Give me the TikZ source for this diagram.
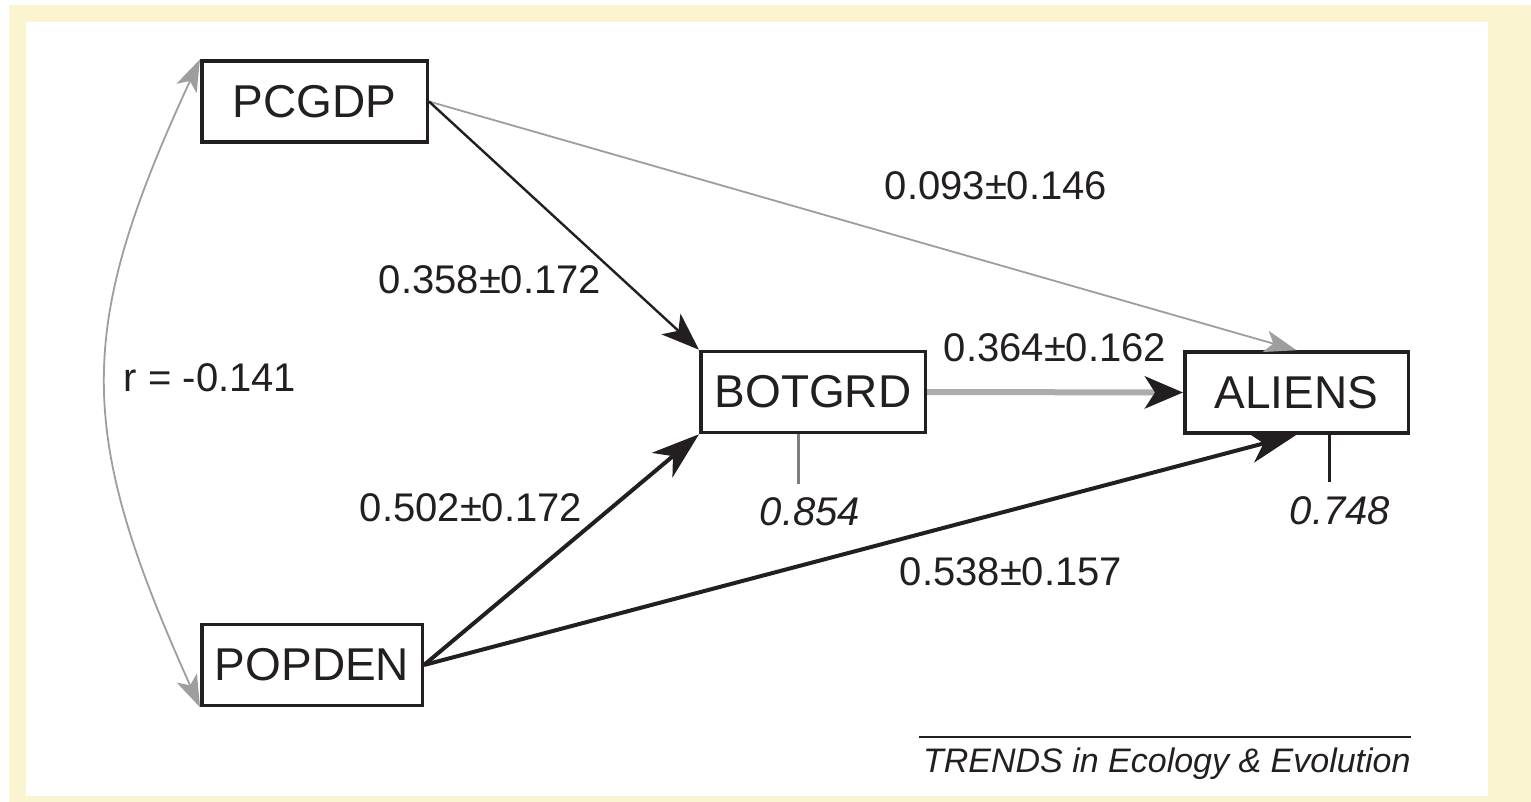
\documentclass[tikz,border=0pt]{standalone}
\usepackage{fontspec}
\setmainfont{Liberation Sans}
\usetikzlibrary{arrows.meta,calc}
\definecolor{fond}{RGB}{250,245,208}
\definecolor{noir}{RGB}{35,31,32}
\definecolor{gris}{RGB}{158,158,158}
\definecolor{grisclair}{RGB}{172,172,172}

\begin{document}
\begin{tikzpicture}[x=0.5pt,y=-0.5pt,
  var/.style={rectangle,draw=noir,line width=1.75pt,minimum height=40.5pt,inner sep=0pt,text=noir,font=\fontsize{23}{27}\selectfont},
  coef/.style={inner sep=0pt,text=noir,font=\fontsize{20}{24}\selectfont},
  resid/.style={coef,font=\fontsize{20}{24}\selectfont\itshape},
  fort/.style={draw=noir,line width=2pt,-{Stealth[length=24pt,width=16pt,inset=7pt]}},
  fin/.style={draw=noir,line width=1.2pt,-{Stealth[length=19pt,width=14pt,inset=5pt]}},
  faible/.style={draw=gris,line width=0.9pt,-{Stealth[length=16pt,width=11pt,inset=4pt]}}]
  % cadre
  \useasboundingbox (0,0) rectangle (1531,802);
  \fill[fond] (9,5) rectangle (1531,802);
  \fill[white] (26,22) rectangle (1488,796);

  % variables
  \node[var,minimum width=112.75pt] (pcgdp) at (314.5,101.5) {PCGDP};
  \node[var,minimum width=110.25pt] (popden) at (312,665) {POPDEN};
  \node[var,minimum width=112.25pt] (botgrd) at (813,392) {BOTGRD};
  \node[var,minimum width=111.75pt] (aliens) at (1296.5,392.5) {ALIENS};

  \coordinate (rb) at (798,484);
  \coordinate (ra) at (1329,482);

  % chemins
  \draw[faible,{Stealth[length=16pt,width=11pt,inset=4pt]}-{Stealth[length=16pt,width=11pt,inset=4pt]}]
    (pcgdp.north west) .. controls (75,330) and (75,430) .. (popden.south west);
  \draw[faible] (pcgdp.east) -- (aliens.north);
  \draw[fin] (pcgdp.east) -- (botgrd.north west);
  \draw[fort] (popden.east) -- (botgrd.south west);
  \draw[fort] (popden.east) -- (aliens.south);
  \draw[draw=grisclair,line width=3pt,-{Stealth[length=19pt,width=16pt,inset=5pt,color=noir]}] (botgrd.east) -- (aliens.west);
  \draw[draw=gris!80!black,line width=1.5pt] (botgrd.south -| rb) -- (rb);
  \draw[draw=noir,line width=1.5pt] (aliens.south -| ra) -- (ra);

  % coefficients
  \node[coef] (c1) at (996,186) {0.093±0.146};
  \node[coef] (c2) at (490,280) {0.358±0.172};
  \node[coef] (c3) at (1055,348) {0.364±0.162};
  \node[coef] (c4) at (210,378) {r = -0.141};
  \node[coef] (c5) at (471,508) {0.502±0.172};
  \node[coef] (c6) at (1011,572) {0.538±0.157};
  \node[resid] (r1) at (810,512) {0.854};
  \node[resid] (r2) at (1340,511) {0.748};

  % source
  \coordinate (s1) at (919,737);
  \coordinate (s2) at (1411,737);
  \draw[noir,line width=1.25pt] (s1) -- (s2);
  \node[inner sep=0pt,anchor=base east,text=noir,font=\fontsize{17}{20}\selectfont\itshape] (src) at (1411,772) {TRENDS in Ecology \& Evolution};
\end{tikzpicture}
\end{document}
